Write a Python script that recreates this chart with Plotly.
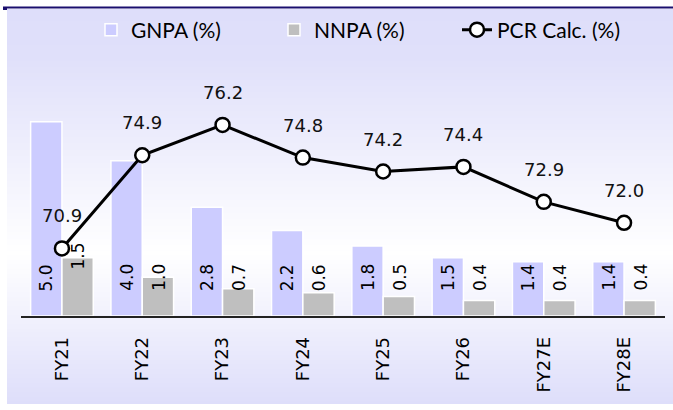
import base64, struct, zlib
import plotly.graph_objects as go

# ---------------- data ----------------
categories = ["FY21", "FY22", "FY23", "FY24", "FY25", "FY26", "FY27E", "FY28E"]
gnpa = [5.0, 4.0, 2.8, 2.2, 1.8, 1.5, 1.4, 1.4]
nnpa = [1.5, 1.0, 0.7, 0.6, 0.5, 0.4, 0.4, 0.4]
pcr = [70.9, 74.9, 76.2, 74.8, 74.2, 74.4, 72.9, 72.0]

# ---------------- geometry / style ----------------
W, H = 673, 410
ML, MR, MT, MB = 21, 8, 83, 94
PW, PH = W - ML - MR, H - MT - MB

GNPA_COLOR = "#ccccff"
NNPA_COLOR = "#bfbfbf"
NUM_FONT = "DejaVu Sans"
LEG_FONT = "Lato"


def px_to_paper_x(px):
    return (px - ML) / PW


def px_to_paper_y(py):
    return (H - MB - py) / PH


def gradient_png(stops, height=400):
    rows = b""
    for i in range(height):
        t = i / (height - 1)
        for j in range(len(stops) - 1):
            t0, c0 = stops[j]
            t1, c1 = stops[j + 1]
            if t0 <= t <= t1:
                f = (t - t0) / (t1 - t0) if t1 > t0 else 0
                c = [round(c0[k] + (c1[k] - c0[k]) * f) for k in range(3)]
                break
        rows += b"\x00" + bytes(c)

    def chunk(tag, data):
        return (struct.pack(">I", len(data)) + tag + data +
                struct.pack(">I", zlib.crc32(tag + data) & 0xFFFFFFFF))

    png = b"\x89PNG\r\n\x1a\n"
    png += chunk(b"IHDR", struct.pack(">IIBBBBB", 1, height, 8, 2, 0, 0, 0))
    png += chunk(b"IDAT", zlib.compress(rows, 9))
    png += chunk(b"IEND", b"")
    return "data:image/png;base64," + base64.b64encode(png).decode()


bg = gradient_png([(0.0, (222, 222, 250)), (0.12, (224, 224, 250)),
                   (0.62, (255, 255, 255)), (1.0, (222, 222, 250))])

fig = go.Figure()

fig.add_trace(go.Bar(
    x=categories, y=gnpa, name="GNPA (%)",
    marker=dict(color=GNPA_COLOR, line=dict(color="white", width=1.5)),
    hoverinfo="skip",
))
fig.add_trace(go.Bar(
    x=categories, y=nnpa, name="NNPA (%)",
    marker=dict(color=NNPA_COLOR, line=dict(color="white", width=1.5)),
    hoverinfo="skip",
))
fig.add_trace(go.Scatter(
    x=categories, y=pcr, name="PCR Calc. (%)", yaxis="y2",
    mode="lines+markers",
    line=dict(color="black", width=3),
    marker=dict(symbol="circle", size=14, color="white",
                line=dict(color="black", width=2.5)),
    hoverinfo="skip",
))

annotations = []
# rotated bar value labels sitting near the base of the bars
nnpa_extra_lift = {"FY21": 22}
for c, g, n in zip(categories, gnpa, nnpa):
    annotations.append(dict(
        x=c, y=0, xref="x", yref="y", text=f"{g:.1f}", textangle=-90,
        showarrow=False, yanchor="bottom", xanchor="center",
        xshift=-16, yshift=23,
        font=dict(family=NUM_FONT, size=17, color="black")))
    annotations.append(dict(
        x=c, y=0, xref="x", yref="y", text=f"{n:.1f}", textangle=-90,
        showarrow=False, yanchor="bottom", xanchor="center",
        xshift=16, yshift=23 + nnpa_extra_lift.get(c, 0),
        font=dict(family=NUM_FONT, size=17, color="black")))
# PCR labels above the markers
for c, p in zip(categories, pcr):
    annotations.append(dict(
        x=c, y=p, xref="x", yref="y2", text=f"{p:.1f}",
        showarrow=False, yanchor="bottom", xanchor="center", yshift=20,
        font=dict(family=NUM_FONT, size=18, color="#111111")))

shapes = [
    # dark blue rule under the (cropped) title
    dict(type="line", xref="paper", yref="paper",
         x0=px_to_paper_x(3), x1=px_to_paper_x(680),
         y0=px_to_paper_y(7.5), y1=px_to_paper_y(7.5),
         line=dict(color="#1a0f6e", width=2)),
    dict(type="rect", xref="paper", yref="paper",
         x0=px_to_paper_x(3), x1=px_to_paper_x(7),
         y0=px_to_paper_y(10), y1=px_to_paper_y(7),
         line=dict(width=0), fillcolor="#1a0f6e"),
]

images = [dict(
    source=bg, xref="paper", yref="paper",
    x=px_to_paper_x(7), y=px_to_paper_y(9),
    sizex=px_to_paper_x(680) - px_to_paper_x(7),
    sizey=px_to_paper_y(9) - px_to_paper_y(404),
    xanchor="left", yanchor="top", sizing="stretch", layer="below",
)]

fig.update_layout(
    width=W, height=H,
    margin=dict(l=ML, r=MR, t=MT, b=MB, pad=0),
    paper_bgcolor="white",
    plot_bgcolor="rgba(0,0,0,0)",
    barmode="group", bargap=0.22, bargroupgap=0.0,
    showlegend=True,
    legend=dict(
        orientation="h", x=px_to_paper_x(91), xanchor="left",
        y=px_to_paper_y(30), yanchor="middle",
        font=dict(family=LEG_FONT, size=21, color="black"),
        bgcolor="rgba(0,0,0,0)", entrywidth=138, entrywidthmode="pixels",
        traceorder="normal",
    ),
    xaxis=dict(
        type="category", showgrid=False, zeroline=False,
        showline=True, linecolor="#222222", linewidth=1.5,
        ticks="", tickangle=-90, ticklabelstandoff=12,
        tickfont=dict(family=NUM_FONT, size=18, color="black"),
        fixedrange=True,
    ),
    yaxis=dict(range=[0, 6], visible=False, showgrid=False, fixedrange=True),
    yaxis2=dict(range=[68, 78], overlaying="y", side="right",
                visible=False, showgrid=False, fixedrange=True),
    annotations=annotations,
    shapes=shapes,
    images=images,
)

fig.write_html(
    "out.html",
    config={"displayModeBar": False},
    post_script=(
        "document.documentElement.style.margin='0px';"
        "document.body.style.margin='0px';"
        "document.body.style.padding='0px';"
        "document.body.style.overflow='hidden';"
    ),
)
